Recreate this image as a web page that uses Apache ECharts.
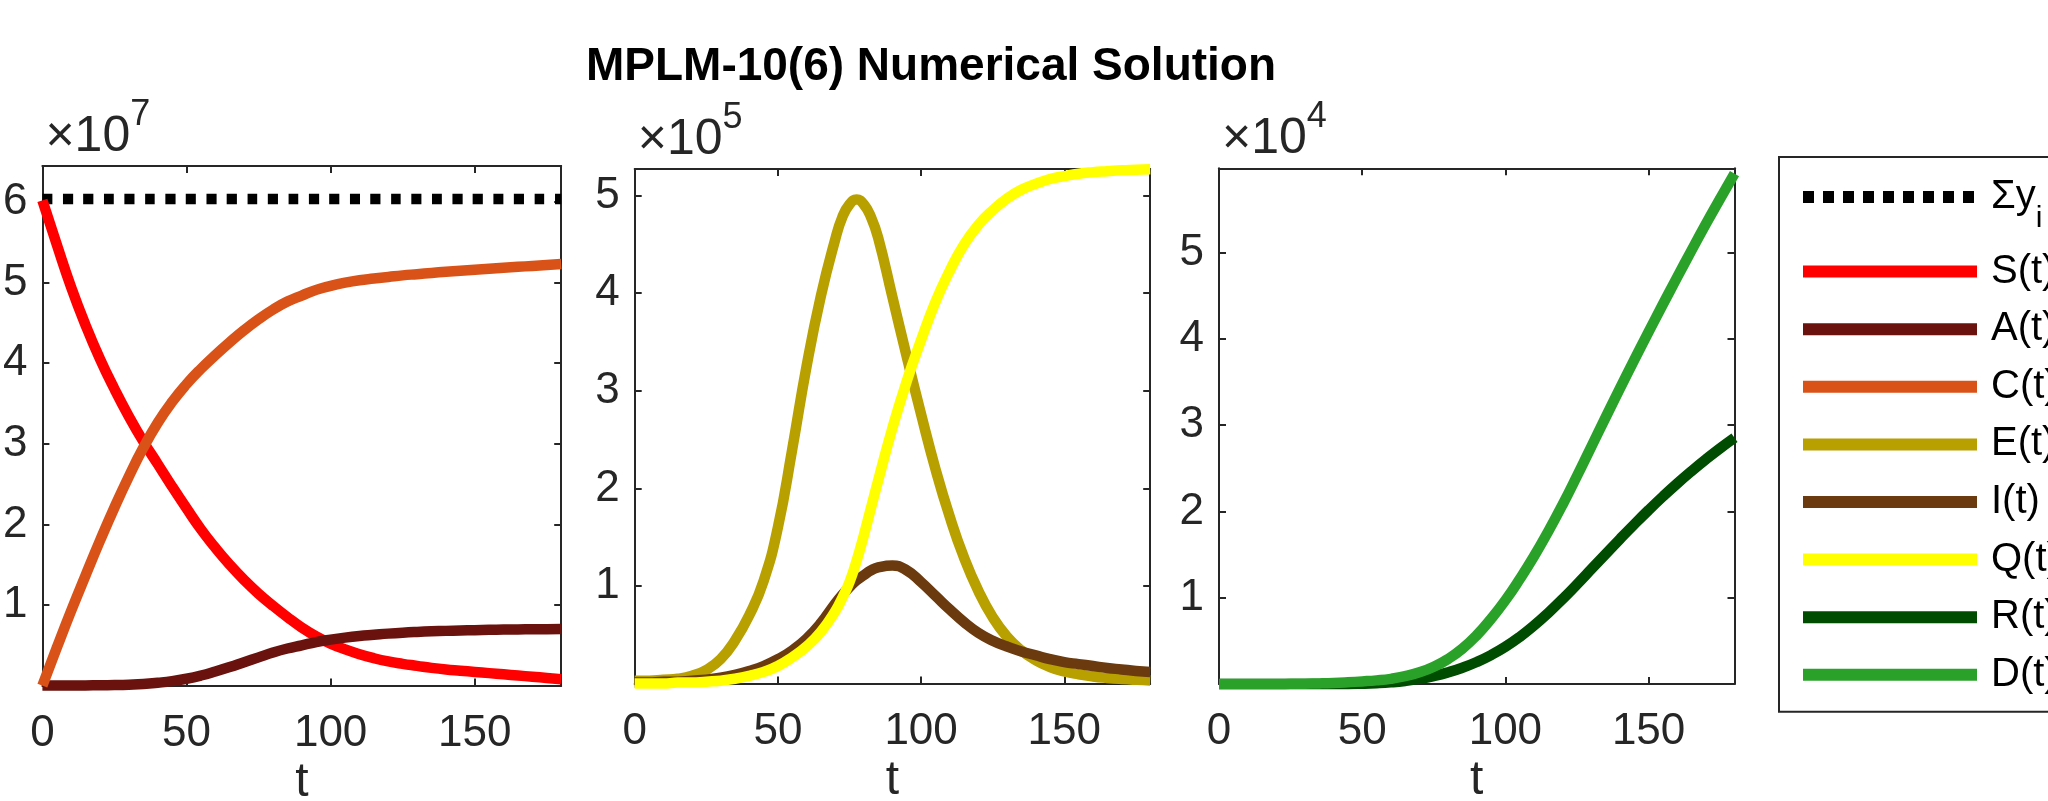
<!DOCTYPE html>
<html><head><meta charset="utf-8">
<script src="https://cdn.jsdelivr.net/npm/echarts@6/dist/echarts.min.js"></script>
<style>html,body{margin:0;padding:0;background:#fff}#c{width:2048px;height:801px}</style>
</head><body><div id="c"></div>
<script>
// time grids
const T = [0,5,10,15,20,25,30,35,40,45,50,55,60,65,70,75,80,85,90,95,100,105,110,115,120,125,130,135,140,145,150,155,160,165,170,175,180];
const T2 = [0,5,10,15,20,25,30,35,40,45,50,55,60,65,70,72.5,75,77.5,80,82.5,85,90,95,100,105,110,115,120,125,130,135,140,145,150,155,160,165,170,175,180];
// panel 1 (x10^7), on T
const SUM = [6.036,6.036,6.036,6.036,6.036,6.036,6.036,6.036,6.036,6.036,6.036,6.036,6.036,6.036,6.036,6.036,6.036,6.036,6.036,6.036,6.036,6.036,6.036,6.036,6.036,6.036,6.036,6.036,6.036,6.036,6.036,6.036,6.036,6.036,6.036,6.036,6.036];
const S = [6.02,5.47,4.94,4.47,4.05,3.68,3.34,3.03,2.75,2.47,2.2,1.94,1.71,1.5,1.31,1.14,0.99,0.85,0.72,0.61,0.52,0.45,0.39,0.34,0.3,0.27,0.245,0.22,0.2,0.185,0.17,0.155,0.14,0.125,0.11,0.095,0.08];
const A = [0,0,0,0.002,0.004,0.007,0.012,0.02,0.035,0.055,0.085,0.125,0.175,0.23,0.29,0.35,0.41,0.46,0.5,0.54,0.57,0.595,0.615,0.63,0.645,0.657,0.666,0.673,0.679,0.684,0.688,0.692,0.695,0.697,0.699,0.7,0.701];
const C = [0,0.47,0.93,1.37,1.8,2.21,2.595,2.95,3.26,3.52,3.74,3.93,4.1,4.26,4.41,4.545,4.665,4.765,4.84,4.91,4.96,5.0,5.03,5.05,5.07,5.09,5.105,5.12,5.135,5.148,5.16,5.172,5.184,5.196,5.207,5.218,5.23];
// panel 2 (x10^5), on T2
const E = [0.03,0.03,0.04,0.05,0.08,0.14,0.25,0.44,0.7,1.05,1.6,2.4,3.25,3.97,4.55,4.78,4.91,4.96,4.91,4.78,4.57,3.96,3.35,2.76,2.2,1.71,1.29,0.95,0.68,0.48,0.34,0.24,0.17,0.125,0.095,0.073,0.058,0.047,0.039,0.033];
const I = [0.01,0.01,0.02,0.02,0.03,0.04,0.06,0.09,0.13,0.18,0.25,0.34,0.46,0.62,0.82,0.91,0.99,1.06,1.11,1.16,1.19,1.21,1.16,1.04,0.9,0.76,0.63,0.52,0.44,0.38,0.33,0.29,0.25,0.22,0.2,0.18,0.16,0.145,0.13,0.12];
const Q = [0,0,0,0.01,0.01,0.02,0.03,0.05,0.08,0.12,0.18,0.27,0.38,0.53,0.74,0.88,1.04,1.26,1.52,1.8,2.08,2.62,3.1,3.52,3.91,4.23,4.5,4.7,4.85,4.97,5.06,5.12,5.17,5.2,5.225,5.24,5.25,5.26,5.265,5.27];
// panel 3 (x10^4), on T
const R = [0,0,0,0,0,0,0,0,0,0,0.003,0.009,0.019,0.035,0.059,0.092,0.135,0.189,0.255,0.335,0.431,0.545,0.677,0.825,0.985,1.155,1.33,1.506,1.68,1.85,2.015,2.173,2.324,2.467,2.603,2.732,2.854];
const D = [0,0,0,0,0,0.002,0.004,0.007,0.012,0.02,0.03,0.042,0.06,0.09,0.135,0.2,0.29,0.41,0.565,0.755,0.97,1.215,1.48,1.77,2.08,2.41,2.75,3.09,3.425,3.755,4.08,4.4,4.715,5.025,5.33,5.625,5.915];
// axes
const X_TICKS = [0,50,100,150];
const Y_MAX = [6.447, 5.273, 5.976];
const EXPONENTS = ['7','5','4'];

const FONT = '"Liberation Sans", Arial, Helvetica, sans-serif';
const AX = '#262626';
const LW = 10.5;
const grids = [
  {left:42.4, top:166, width:518.8, height:519.6},
  {left:634.7, top:169, width:515.5, height:514.6},
  {left:1219, top:168.3, width:515.5, height:515.7}
];
function xAx(i,pos){
  const b = pos==='bottom';
  return {type:'value', gridIndex:i, position:pos, min:0, max:180, interval:50,
    axisLine:{show:true,onZero:false,lineStyle:{color:AX,width:2}},
    axisTick:{show:true,inside:true,length:7,lineStyle:{color:AX,width:2}},
    axisLabel:{show:b,fontSize:44,color:AX,fontFamily:FONT,margin:26,showMaxLabel:false,
      formatter:v=>X_TICKS.indexOf(v)>=0?String(v):''},
    splitLine:{show:false},
    name:b?'t':'', nameLocation:'middle', nameGap:73, nameMoveOverlap:false,
    nameTextStyle:{fontSize:48,color:AX,fontFamily:FONT}};
}
function yAx(i,pos){
  const l = pos==='left';
  return {type:'value', gridIndex:i, position:pos, min:0, max:Y_MAX[i], interval:1,
    axisLine:{show:true,onZero:false,lineStyle:{color:AX,width:2}},
    axisTick:{show:true,inside:true,length:7,lineStyle:{color:AX,width:2}},
    axisLabel:{show:l,fontSize:44,color:AX,fontFamily:FONT,margin:15,showMinLabel:false,showMaxLabel:false},
    splitLine:{show:false},
    name:l?('{x|×10}{e|'+EXPONENTS[i]+'}'):'', nameLocation:'end', nameGap:4, nameMoveOverlap:false,
    nameTextStyle:{align:'left',verticalAlign:'bottom',padding:[0,0,0,3],color:AX,fontFamily:FONT,
      rich:{x:{fontSize:50,lineHeight:50,verticalAlign:'bottom',color:AX,fontFamily:FONT},
            e:{fontSize:36,lineHeight:65,verticalAlign:'top',padding:[0,0,29,0],color:AX,fontFamily:FONT}}}};
}
const xAxis=[], yAxis=[];
for(let i=0;i<3;i++){ xAxis.push(xAx(i,'bottom'),xAx(i,'top')); yAxis.push(yAx(i,'left'),yAx(i,'right')); }

function line(name,ts,vals,color,gi,ls){
  return {type:'line',name,xAxisIndex:gi*2,yAxisIndex:gi*2,
    data:ts.map((t,k)=>[t,vals[k]]),symbol:'none',showSymbol:false,smooth:0.5,clip:false,
    lineStyle:Object.assign({color,width:LW,cap:'butt',join:'round'},ls||{}),itemStyle:{color},
    emphasis:{disabled:true},animation:false};
}
const series=[
  line('Σy',T,SUM,'#000000',0,{type:[10,10.5],width:10.5}),
  line('S(t)',T,S,'#FF0000',0),
  line('A(t)',T,A,'#6A120E',0),
  line('C(t)',T,C,'#D95319',0),
  line('E(t)',T2,E,'#B8A000',1),
  line('I(t)',T2,I,'#6B3A0E',1),
  line('Q(t)',T2,Q,'#FFFF00',1),
  line('R(t)',T,R,'#004C00',2),
  line('D(t)',T,D,'#2AA22A',2)
];
const chart = echarts.init(document.getElementById('c'),null,{renderer:'canvas'});
chart.setOption({
  backgroundColor:'#ffffff',
  animation:false,
  textStyle:{fontFamily:FONT},
  title:{text:'MPLM-10(6) Numerical Solution',left:931,top:44,textAlign:'center',padding:0,
    textStyle:{fontSize:46,fontWeight:'bold',color:'#000',fontFamily:FONT}},
  grid:grids.map(g=>Object.assign({outerBoundsMode:'none',containLabel:false},g)),
  xAxis, yAxis, series,
  legend:{orient:'vertical',left:1779,top:157,padding:[20,20,17,18],itemWidth:174,itemHeight:24,itemGap:17.6,
    borderColor:'#262626',borderWidth:2,backgroundColor:'#fff',selectedMode:false,
    itemStyle:{opacity:0},lineStyle:{width:12},
    textStyle:{fontSize:40,lineHeight:40,color:'#000',fontFamily:FONT,padding:[0,0,0,9],
      rich:{a:{fontSize:40,lineHeight:40,verticalAlign:'top',color:'#000',fontFamily:FONT},
            b:{fontSize:30,lineHeight:30,verticalAlign:'top',padding:[27,0,0,0],color:'#000',fontFamily:FONT}}},
    formatter:n=>n==='Σy'?'{a|Σy}{b|i}':n,
    data:[{name:'Σy',lineStyle:{type:[11,9],width:12}},'S(t)','A(t)','C(t)','E(t)','I(t)','Q(t)','R(t)','D(t)']}
});
</script></body></html>
